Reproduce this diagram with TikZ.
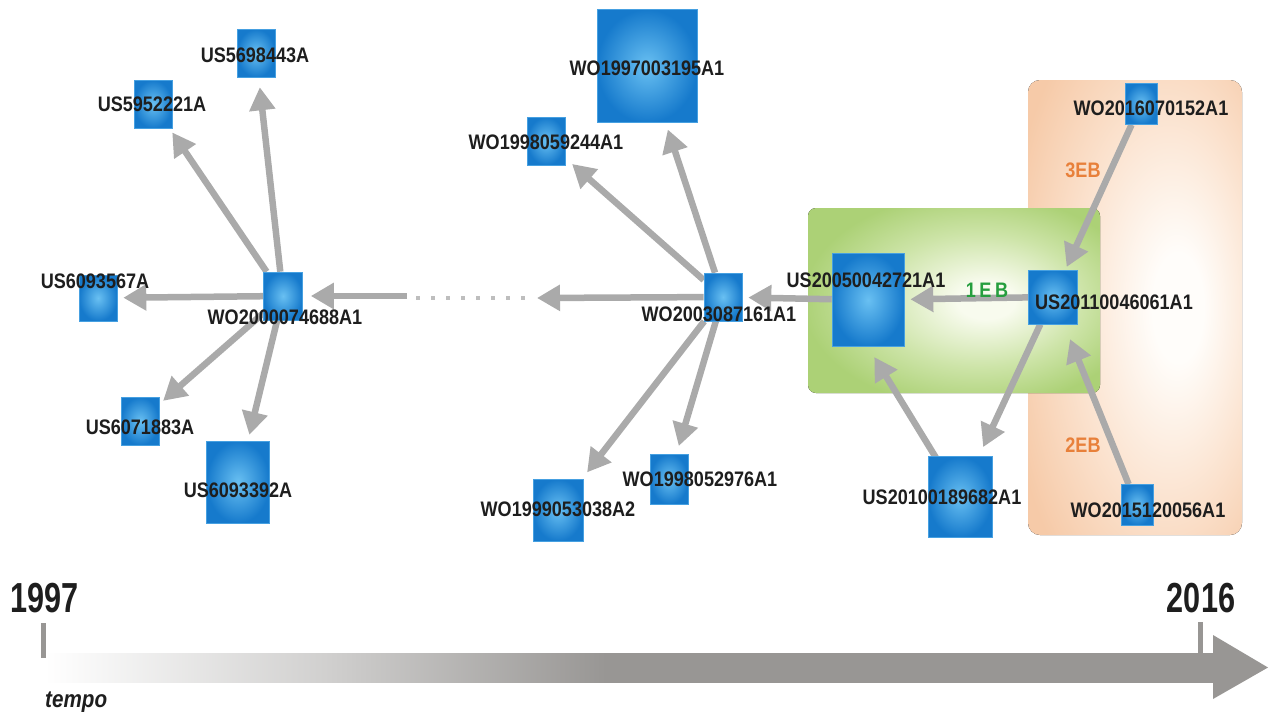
\documentclass[tikz,border=0pt]{standalone}
\usepackage{fontspec}
\newfontfamily\labf{Liberation Sans}[FakeStretch=0.86]
\newfontfamily\yrf{Liberation Sans}[FakeStretch=0.73]
\usetikzlibrary{arrows.meta}
\pgfdeclarelayer{boxes}
\pgfdeclarelayer{edges}
\pgfsetlayers{boxes,edges,main}
\definecolor{arrgray}{RGB}{170,170,170}
\definecolor{dotgray}{RGB}{190,190,190}
\definecolor{tgray}{RGB}{152,150,148}
\definecolor{nodein}{RGB}{105,192,242}
\definecolor{nodeout}{RGB}{22,122,204}
\definecolor{nodeedge}{RGB}{70,160,225}
\definecolor{txt}{RGB}{30,30,30}
\definecolor{grout}{RGB}{172,209,118}
\definecolor{grmid}{RGB}{205,228,168}
\definecolor{grin}{RGB}{248,251,238}
\definecolor{orout}{RGB}{246,202,168}
\definecolor{ormid}{RGB}{251,226,206}
\definecolor{orin}{RGB}{255,253,250}
\definecolor{ortxt}{RGB}{232,128,58}
\definecolor{grtxt}{RGB}{38,158,62}
\pgfdeclarehorizontalshading{timeband}{100bp}{color(0bp)=(white); color(25bp)=(white); color(37bp)=(tgray!45); color(49bp)=(tgray); color(100bp)=(tgray)}
\pgfdeclareradialshading{glowG}{\pgfpoint{6bp}{0bp}}{color(0bp)=(grin); color(5bp)=(grin); color(18bp)=(grmid); color(29bp)=(grout); color(60bp)=(grout)}
\pgfdeclareradialshading{glowO}{\pgfpoint{11bp}{0bp}}{color(0bp)=(orin); color(6bp)=(orin); color(22bp)=(ormid); color(36bp)=(orout); color(70bp)=(orout)}
\tikzset{
  sq/.style={rectangle, inner sep=0pt, draw=nodeedge, line width=0.6pt, inner color=nodein, outer color=nodeout},
  lab/.style={inner sep=0pt, text=txt, font=\labf\bfseries\fontsize{21pt}{21pt}\selectfont},
  eblab/.style={inner sep=0pt, font=\labf\bfseries\fontsize{21pt}{21pt}\selectfont},
  arr/.style={draw=arrgray, line width=6.5pt, -{Triangle[length=23pt,width=25pt]}},
  dotline/.style={draw=dotgray, line width=4pt, dash pattern=on 4pt off 11pt},
  yearlab/.style={inner sep=0pt, text=txt, font=\yrf\bfseries\fontsize{42pt}{42pt}\selectfont},
  tick/.style={draw=tgray, line width=5pt}
}
\begin{document}
\begin{tikzpicture}[x=1pt,y=-1pt]
\useasboundingbox (0,0) rectangle (1270,715);

% background groups
\begin{pgfonlayer}{boxes}
  \fill[rounded corners=12pt, shading=glowO] (1028,80) rectangle (1242,535);
  \fill[rounded corners=8pt, shading=glowG] (808,208) rectangle (1100,393);
\end{pgfonlayer}

% squares
\node[sq, minimum width=38pt, minimum height=48pt] (sA) at (256,53) {};
\node[sq, minimum width=38pt, minimum height=48pt] (sB) at (153,104) {};
\node[sq, minimum width=39pt, minimum height=48pt] (sW0) at (283,296) {};
\node[sq, minimum width=38pt, minimum height=46pt] (sC) at (98,298) {};
\node[sq, minimum width=38pt, minimum height=48pt] (sD) at (140,421) {};
\node[sq, minimum width=63pt, minimum height=82pt] (sE) at (238,482) {};
\node[sq, minimum width=100pt, minimum height=113pt] (sF) at (647,66) {};
\node[sq, minimum width=38pt, minimum height=48pt] (sG) at (546,141) {};
\node[sq, minimum width=38pt, minimum height=48pt] (sW3) at (723,297) {};
\node[sq, minimum width=50pt, minimum height=62pt] (sH) at (558,510) {};
\node[sq, minimum width=38pt, minimum height=50pt] (sI) at (669,479) {};
\node[sq, minimum width=72pt, minimum height=93pt] (sJ) at (868,300) {};
\node[sq, minimum width=49pt, minimum height=54pt] (sK) at (1053,297) {};
\node[sq, minimum width=32pt, minimum height=41pt] (sL) at (1141,104) {};
\node[sq, minimum width=32pt, minimum height=41pt] (sM) at (1137,505) {};
\node[sq, minimum width=64pt, minimum height=81pt] (sN) at (960,497) {};

% free ends of the elided chain
\coordinate (c1) at (537,298);
\coordinate (c2) at (416,298);
\coordinate (c3) at (526,298);
\coordinate (c4) at (407,296);

% connectors
\begin{pgfonlayer}{edges}
  \draw[arr, shorten >=10pt] (sW0) -- (sA);
  \draw[arr, shorten >=5pt] (sW0) -- (sB);
  \draw[arr, shorten >=6pt] (sW0) -- (sC);
  \draw[arr, shorten >=5pt] (sW0) -- (sD);
  \draw[arr, shorten >=6pt] (sW0) -- (sE);
  \draw[arr, shorten >=8pt] (c4) -- (sW0);
  \draw[dotline] (c2) -- (c3);
  \draw[arr] (sW3) -- (c1);
  \draw[arr, shorten >=7pt] (sW3) -- (sF);
  \draw[arr, shorten >=9pt] (sW3) -- (sG);
  \draw[arr, shorten >=8pt] (sW3) -- (sH);
  \draw[arr, shorten >=8pt] (sW3) -- (sI);
  \draw[arr, shorten >=6pt] (sJ) -- (sW3);
  \draw[arr, shorten >=6pt] (sK) -- (sJ);
  \draw[arr, shorten >=3pt] (sL) -- (sK);
  \draw[arr, shorten >=16pt] (sM) -- (sK);
  \draw[arr, shorten >=10pt] (sK) -- (sN);
  \draw[arr, shorten >=12pt] (sN.center) -- (sJ.south);
\end{pgfonlayer}

% labels
\node[lab] (lA) at (255,55) {US5698443A};
\node[lab] (lB) at (152,104) {US5952221A};
\node[lab] (lW0) at (285,317) {WO2000074688A1};
\node[lab] (lC) at (95,281) {US6093567A};
\node[lab] (lD) at (140,427) {US6071883A};
\node[lab] (lE) at (238,490) {US6093392A};
\node[lab] (lF) at (647,68) {WO1997003195A1};
\node[lab] (lG) at (546,142) {WO1998059244A1};
\node[lab] (lW3) at (719,314) {WO2003087161A1};
\node[lab] (lH) at (558,509) {WO1999053038A2};
\node[lab] (lI) at (700,479) {WO1998052976A1};
\node[lab] (lJ) at (866,280) {US20050042721A1};
\node[lab] (lK) at (1114,302) {US20110046061A1};
\node[lab] (lL) at (1151,108) {WO2016070152A1};
\node[lab] (lM) at (1148,510) {WO2015120056A1};
\node[lab] (lN) at (942,497) {US20100189682A1};
\node[eblab, text=ortxt] (e3) at (1083,170) {3EB};
\node[eblab, text=ortxt] (e2) at (1083,445) {2EB};
\node[eblab, text=grtxt] (e1) at (987,290) {1\,E\,B};

% timeline
\fill[shading=timeband] (45,653) rectangle (1214,682);
\fill[tgray] (1213,635) -- (1268,667.5) -- (1213,699) -- cycle;
\node[yearlab] (y1) at (44.5,598) {1997};
\node[yearlab] (y2) at (1201,598.5) {2016};
\draw[tick] (43,623) -- (43,658);
\draw[tick] (1200,622) -- (1200,653);
\node[inner sep=0pt, text=txt, anchor=base west, font=\labf\bfseries\itshape\fontsize{24pt}{24pt}\selectfont] (tp) at (45,707) {tempo};
\end{tikzpicture}
\end{document}
